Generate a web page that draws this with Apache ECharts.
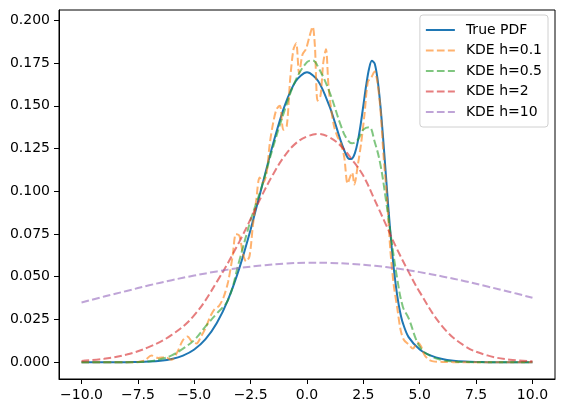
<!DOCTYPE html>
<html>
<head>
<meta charset="utf-8">
<script src="https://cdn.jsdelivr.net/npm/echarts@6/dist/echarts.min.js"></script>
<style>
  html, body { margin: 0; padding: 0; background: #fff; }
  #chart { width: 565px; height: 413px; }
</style>
</head>
<body>
<div id="chart"></div>
<script>
// tick labels
const xTicks = [-10, -7.5, -5, -2.5, 0, 2.5, 5, 7.5, 10];
const yTicks = [0, 0.025, 0.05, 0.075, 0.1, 0.125, 0.15, 0.175, 0.2];

// True PDF
const trueX = [-10, -9, -8, -7.5, -7, -6.5, -6, -5.5, -5, -4.5, -4, -3.5, -3, -2.5, -2, -1.5, -1, -0.5, 0, 0.5, 1, 1.25, 1.5, 1.75, 1.875, 2, 2.125, 2.25, 2.375, 2.5, 2.625, 2.75, 2.875, 3, 3.125, 3.25, 3.375, 3.5, 3.625, 3.75, 3.875, 4, 4.125, 4.25, 4.5, 5, 5.5, 6, 6.5, 7, 7.5, 8, 9, 10];
const trueY = [0, 0, 0.00006, 0.00015, 0.00037, 0.00086, 0.00188, 0.00386, 0.00745, 0.01349, 0.02295, 0.03667, 0.05504, 0.07763, 0.10284, 0.12798, 0.14963, 0.16433, 0.16955, 0.16433, 0.14967, 0.13973, 0.12931, 0.12088, 0.1188, 0.11904, 0.1223, 0.1289, 0.1386, 0.15022, 0.1620, 0.17151, 0.1763, 0.17472, 0.1660, 0.15091, 0.1312, 0.10926, 0.0876, 0.06808, 0.0518, 0.03915, 0.0297, 0.02299, 0.01482, 0.00749, 0.00386, 0.00188, 0.00086, 0.00037, 0.00015, 0.00006, 0, 0];

// KDE h=0.1
const kde01X = [-10, -8, -7.5, -7.2, -6.9, -6.6, -6.3, -6.0, -5.75, -5.5, -5.3, -5.1, -4.9, -4.7, -4.5, -4.3, -4.1, -3.9, -3.7, -3.5, -3.3, -3.15, -3.0, -2.85, -2.7, -2.55, -2.4, -2.25, -2.1, -1.95, -1.8, -1.65, -1.5, -1.35, -1.2, -1.05, -0.9, -0.75, -0.6, -0.48, -0.35, -0.2, -0.05, 0.1, 0.25, 0.35, 0.47, 0.6, 0.72, 0.84, 0.95, 1.05, 1.2, 1.35, 1.5, 1.65, 1.8, 1.9, 2.0, 2.1, 2.25, 2.4, 2.55, 2.7, 2.85, 3.0, 3.12, 3.25, 3.4, 3.55, 3.7, 3.85, 4.0, 4.15, 4.3, 4.5, 4.7, 4.9, 5.05, 5.2, 5.4, 5.6, 6, 7, 10];
const kde01Y = [0, 0, 0.0002, 0.0010, 0.0040, 0.0025, 0.0030, 0.0015, 0.0060, 0.0130, 0.0150, 0.0120, 0.0110, 0.0150, 0.0200, 0.0265, 0.0310, 0.0330, 0.0380, 0.0470, 0.0620, 0.0750, 0.0740, 0.0640, 0.0590, 0.0620, 0.0800, 0.0950, 0.1080, 0.1050, 0.1100, 0.1280, 0.1400, 0.1480, 0.1500, 0.1360, 0.1380, 0.1650, 0.1830, 0.1865, 0.1690, 0.1800, 0.1830, 0.1900, 0.1962, 0.1850, 0.1530, 0.1560, 0.1750, 0.1830, 0.1620, 0.1500, 0.1380, 0.1320, 0.1280, 0.1200, 0.1045, 0.1080, 0.1110, 0.1040, 0.1150, 0.1280, 0.1450, 0.1640, 0.1665, 0.1700, 0.1640, 0.1490, 0.1200, 0.0960, 0.0650, 0.0450, 0.0320, 0.0190, 0.0130, 0.0105, 0.0080, 0.0115, 0.0095, 0.0045, 0.0015, 0.0005, 0.0002, 0, 0];

// KDE h=0.5
const kde05X = [-10, -8, -7, -6.5, -6, -5.5, -5, -4.5, -4, -3.5, -3, -2.5, -2, -1.5, -1, -0.5, 0, 0.25, 0.5, 1, 1.5, 1.75, 2, 2.25, 2.5, 2.75, 3, 3.25, 3.5, 3.75, 4, 4.25, 4.5, 5, 5.5, 6, 6.5, 7, 8, 10];
const kde05Y = [0, 0, 0.0005, 0.0018, 0.0040, 0.0080, 0.0130, 0.0210, 0.0285, 0.0365, 0.0595, 0.0830, 0.1030, 0.1260, 0.1470, 0.1650, 0.1755, 0.1765, 0.1725, 0.1580, 0.1385, 0.1310, 0.1280, 0.1300, 0.1360, 0.1375, 0.1290, 0.1160, 0.0950, 0.0710, 0.0490, 0.0325, 0.0260, 0.0090, 0.0035, 0.0012, 0.0004, 0.0001, 0, 0];

// KDE h=2
const kde2X = [-10, -9, -8, -7, -6, -5, -4, -3, -2, -1.5, -1, -0.5, 0, 0.5, 1, 1.5, 2, 2.5, 3, 3.5, 4, 4.5, 5, 6, 7, 8, 9, 10];
const kde2Y = [0.0008, 0.0020, 0.0045, 0.0090, 0.0160, 0.0275, 0.0470, 0.0705, 0.0975, 0.1100, 0.1205, 0.1280, 0.1320, 0.1335, 0.1315, 0.1265, 0.1185, 0.1090, 0.0950, 0.0805, 0.0660, 0.0530, 0.0410, 0.0210, 0.0095, 0.0040, 0.0015, 0.0006];

// KDE h=10
const kde10X = [-10, -9, -8, -7, -6, -5, -4, -3, -2, -1, 0, 1, 2, 3, 4, 5, 6, 7, 8, 9, 10];
const kde10Y = [0.0349, 0.0384, 0.0417, 0.0450, 0.0480, 0.0507, 0.0531, 0.0551, 0.0566, 0.0577, 0.0582, 0.0581, 0.0575, 0.0564, 0.0548, 0.0527, 0.0502, 0.0474, 0.0443, 0.0411, 0.0377];

const FONT = 'DejaVu Sans';
const DASH = [7.7, 3.3];

function zip(xs, ys) {
    return xs.map((x, i) => [x, ys[i]]);
}

function fmtNum(v, d) {
    const s = Math.abs(v).toFixed(d);
    return v < 0 ? '\u2212' + s : s;
}

function makeSeries(name, xs, ys, color, dashed, opacity, smooth) {
    return {
        name: name,
        type: 'line',
        data: zip(xs, ys),
        symbol: 'none',
        legendIcon: 'none',
        smooth: smooth,
        lineStyle: {
            color: color,
            width: 2,
            type: dashed ? DASH : 'solid',
            opacity: opacity
        },
        itemStyle: { color: color, opacity: opacity }
    };
}

const chart = echarts.init(document.getElementById('chart'));

const option = {
    animation: false,
    backgroundColor: '#fff',
    grid: {
        left: 59, right: 10, top: 10, bottom: 34,
        show: true, borderColor: '#000', borderWidth: 1, backgroundColor: 'transparent'
    },
    xAxis: {
        type: 'value',
        min: -11,
        max: 11,
        axisLine: { show: true, onZero: false, lineStyle: { color: '#000', width: 1 } },
        axisTick: { show: true, length: 5, customValues: xTicks, lineStyle: { color: '#000' } },
        axisLabel: {
            customValues: xTicks, margin: 9, color: '#000', fontSize: 14, fontFamily: FONT,
            formatter: v => fmtNum(v, 1)
        },
        splitLine: { show: false }
    },
    yAxis: {
        type: 'value',
        min: -0.0098,
        max: 0.2060,
        axisLine: { show: true, onZero: false, lineStyle: { color: '#000', width: 1 } },
        axisTick: { show: true, length: 5, customValues: yTicks, lineStyle: { color: '#000' } },
        axisLabel: {
            customValues: yTicks, margin: 9, color: '#000', fontSize: 14, fontFamily: FONT,
            formatter: v => fmtNum(v, 3)
        },
        splitLine: { show: false }
    },
    legend: {
        orient: 'vertical',
        right: 17,
        top: 15,
        align: 'left',
        itemWidth: 29,
        itemHeight: 14,
        itemGap: 6.5,
        padding: [8, 6, 8, 5],
        borderColor: '#d0d0d0',
        borderWidth: 1,
        borderRadius: 3,
        backgroundColor: 'rgba(255,255,255,0.8)',
        itemStyle: { opacity: 0 },
        textStyle: { fontSize: 14, fontFamily: FONT, color: '#000', padding: [0, 0, 0, 6] },
        data: ['True PDF', 'KDE h=0.1', 'KDE h=0.5', 'KDE h=2', 'KDE h=10']
    },
    series: [
        makeSeries('True PDF', trueX, trueY, '#1f77b4', false, 1, 0.3),
        makeSeries('KDE h=0.1', kde01X, kde01Y, '#ff7f0e', true, 0.6, 0.3),
        makeSeries('KDE h=0.5', kde05X, kde05Y, '#2ca02c', true, 0.6, 0.4),
        makeSeries('KDE h=2', kde2X, kde2Y, '#d62728', true, 0.6, 0.4),
        makeSeries('KDE h=10', kde10X, kde10Y, '#9467bd', true, 0.6, 0.4)
    ]
};

chart.setOption(option);
</script>
</body>
</html>
